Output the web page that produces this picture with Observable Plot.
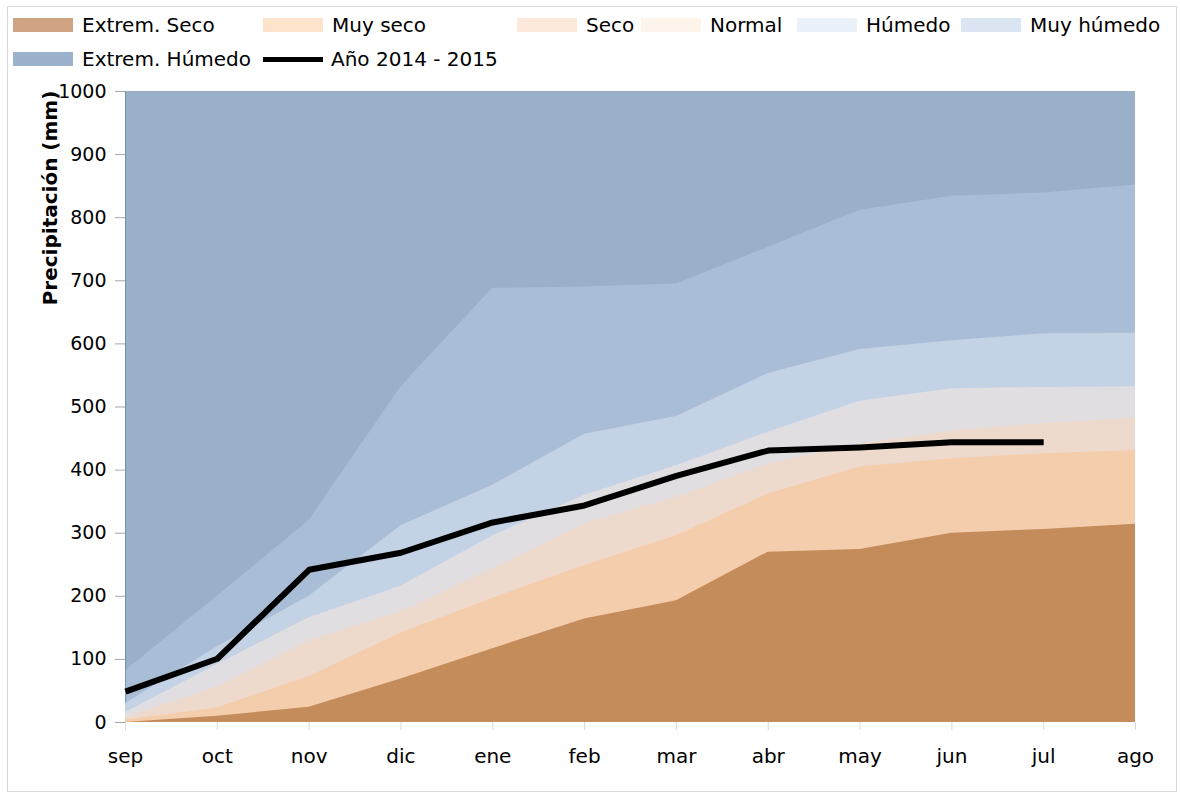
<!DOCTYPE html>
<html>
<head>
<meta charset="utf-8">
<script src="https://cdn.jsdelivr.net/npm/d3@7"></script>
<script src="https://cdn.jsdelivr.net/npm/@observablehq/plot@0.6"></script>
<style>
  body { margin: 0; background: #fff; font-family: "DejaVu Sans", sans-serif; }
  #wrap { position: relative; width: 1180px; height: 797px; overflow: hidden; background: #fff; }
  #frame { position: absolute; left: 7px; top: 6px; width: 1170px; height: 786px; border: 1px solid #d9d9d9; box-sizing: border-box; pointer-events: none; }
  #legend { position: relative; height: 75px; }
  .item { position: absolute; display: flex; align-items: center; height: 24px; font-size: 20px; white-space: nowrap; color: #000; }
  .sw { width: 60px; height: 14px; margin-right: 9px; flex: none; }
  .ln { width: 60px; height: 5px; background: #000; margin-right: 8px; flex: none; }
  #ytitle { position: absolute; left: 50px; top: 198px; transform: translate(-50%, -50%) rotate(-90deg); font-weight: bold; font-size: 20px; white-space: nowrap; color: #000; }
  #chart { position: relative; }
</style>
</head>
<body>
<div id="wrap">
  <div id="frame"></div>
  <div id="legend"></div>
  <div id="chart"></div>
  <div id="ytitle">Precipitación (mm)</div>
</div>
<script>
// ---- data ----
const months = ["sep", "oct", "nov", "dic", "ene", "feb", "mar", "abr", "may", "jun", "jul", "ago"];
const extremSeco   = [0, 10, 24, 69, 117, 164, 193, 270, 274, 300, 306, 314];
const muySeco      = [4, 23, 73, 142, 197, 249, 296, 362, 405, 418, 426, 431];
const seco         = [8, 56, 130, 175, 244, 315, 357, 410, 441, 462, 474, 482];
const normal       = [16, 92, 166, 216, 296, 360, 407, 460, 509, 529, 531, 532];
const humedo       = [30, 120, 200, 312, 376, 457, 485, 553, 591, 605, 616, 617];
const muyHumedo    = [82, 200, 320, 532, 688, 690, 695, 753, 812, 834, 839, 852];
const extremHumedo = [1000, 1000, 1000, 1000, 1000, 1000, 1000, 1000, 1000, 1000, 1000, 1000];
const anio         = [49, 101, 242, 269, 317, 344, 391, 431, 436, 444, 444];
const yTicks = [0, 100, 200, 300, 400, 500, 600, 700, 800, 900, 1000];
const seriesNames = ["Extrem. Seco", "Muy seco", "Seco", "Normal", "Húmedo", "Muy húmedo", "Extrem. Húmedo"];
const lineName = "Año 2014 - 2015";
const yTitle = "Precipitación (mm)";

// ---- styles ----
const seriesValues = {
  "Extrem. Seco": extremSeco, "Muy seco": muySeco, "Seco": seco, "Normal": normal,
  "Húmedo": humedo, "Muy húmedo": muyHumedo, "Extrem. Húmedo": extremHumedo
};
const areaColor = {
  "Extrem. Seco": "#c48b5b", "Muy seco": "#f4cdad", "Seco": "#eedacc", "Normal": "#e0dee1",
  "Húmedo": "#c4d2e5", "Muy húmedo": "#a9bdd6", "Extrem. Húmedo": "#9ab0c9"
};
const legendColor = {
  "Extrem. Seco": "#cfa384", "Muy seco": "#fde3cc", "Seco": "#fde9db", "Normal": "#fdf4eb",
  "Húmedo": "#ebf1f9", "Muy húmedo": "#dbe5f1", "Extrem. Húmedo": "#9cb2cc"
};
const legendPos = [[13, 0], [263, 0], [517, 0], [641, 0], [797, 0], [961, 0], [13, 1], [263, 1]];
const rowTop = [13, 47];

// ---- legend ----
const legend = document.getElementById("legend");
const legendEntries = [...seriesNames, lineName];
legendEntries.forEach((name, i) => {
  const [lx, row] = legendPos[i];
  const it = document.createElement("div");
  it.className = "item";
  it.style.left = lx + "px";
  it.style.top = rowTop[row] + "px";
  const sw = document.createElement("div");
  if (name === lineName) { sw.className = "ln"; }
  else { sw.className = "sw"; sw.style.background = legendColor[name]; }
  it.appendChild(sw);
  const t = document.createElement("span");
  t.textContent = name;
  it.appendChild(t);
  legend.appendChild(it);
});
document.getElementById("ytitle").textContent = yTitle;

// ---- chart ----
const rows = name => months.map((m, i) => ({month: m, value: seriesValues[name][i]}));
const lineRows = anio.map((v, i) => ({month: months[i], value: v}));
const area = name => Plot.areaY(rows(name), {x: "month", y1: 0, y2: "value", fill: areaColor[name], curve: "linear"});

const chart = Plot.plot({
  width: 1180,
  height: 722,
  marginLeft: 125,
  marginRight: 45,
  marginTop: 16,
  marginBottom: 75,
  style: {fontFamily: "DejaVu Sans, sans-serif", background: "transparent", overflow: "visible"},
  x: {type: "point", domain: months, padding: 0, round: false, range: [125, 1135], label: null},
  y: {domain: [0, 1000], range: [647, 16], label: null},
  marks: [
    area("Extrem. Húmedo"),
    area("Muy húmedo"),
    Plot.ruleY(yTicks, {x1: months[0], x2: months[months.length - 1], stroke: "#33475f", strokeOpacity: 0.38}),
    Plot.ruleX([months[0]], {y1: 0, y2: 1000, stroke: "#4d6380", strokeOpacity: 0.45}),
    area("Húmedo"),
    area("Normal"),
    Plot.ruleY(yTicks, {x1: months[0], x2: months[months.length - 1], stroke: "#000", strokeOpacity: 0.06}),
    area("Seco"),
    area("Muy seco"),
    area("Extrem. Seco"),
    Plot.line(lineRows, {x: "month", y: "value", stroke: "#000", strokeWidth: 6, strokeLinejoin: "round", strokeLinecap: "butt"}),
    Plot.axisY(yTicks, {tickSize: 10, tickPadding: 9, stroke: "#a6a6a6", fill: "#000", fontSize: 19, tickFormat: d => String(d), label: null}),
    Plot.axisX({tickSize: 8, tickPadding: 18, stroke: "#d9d9d9", fill: "#000", fontSize: 20, label: null})
  ]
});
document.getElementById("chart").appendChild(chart);
</script>
</body>
</html>
